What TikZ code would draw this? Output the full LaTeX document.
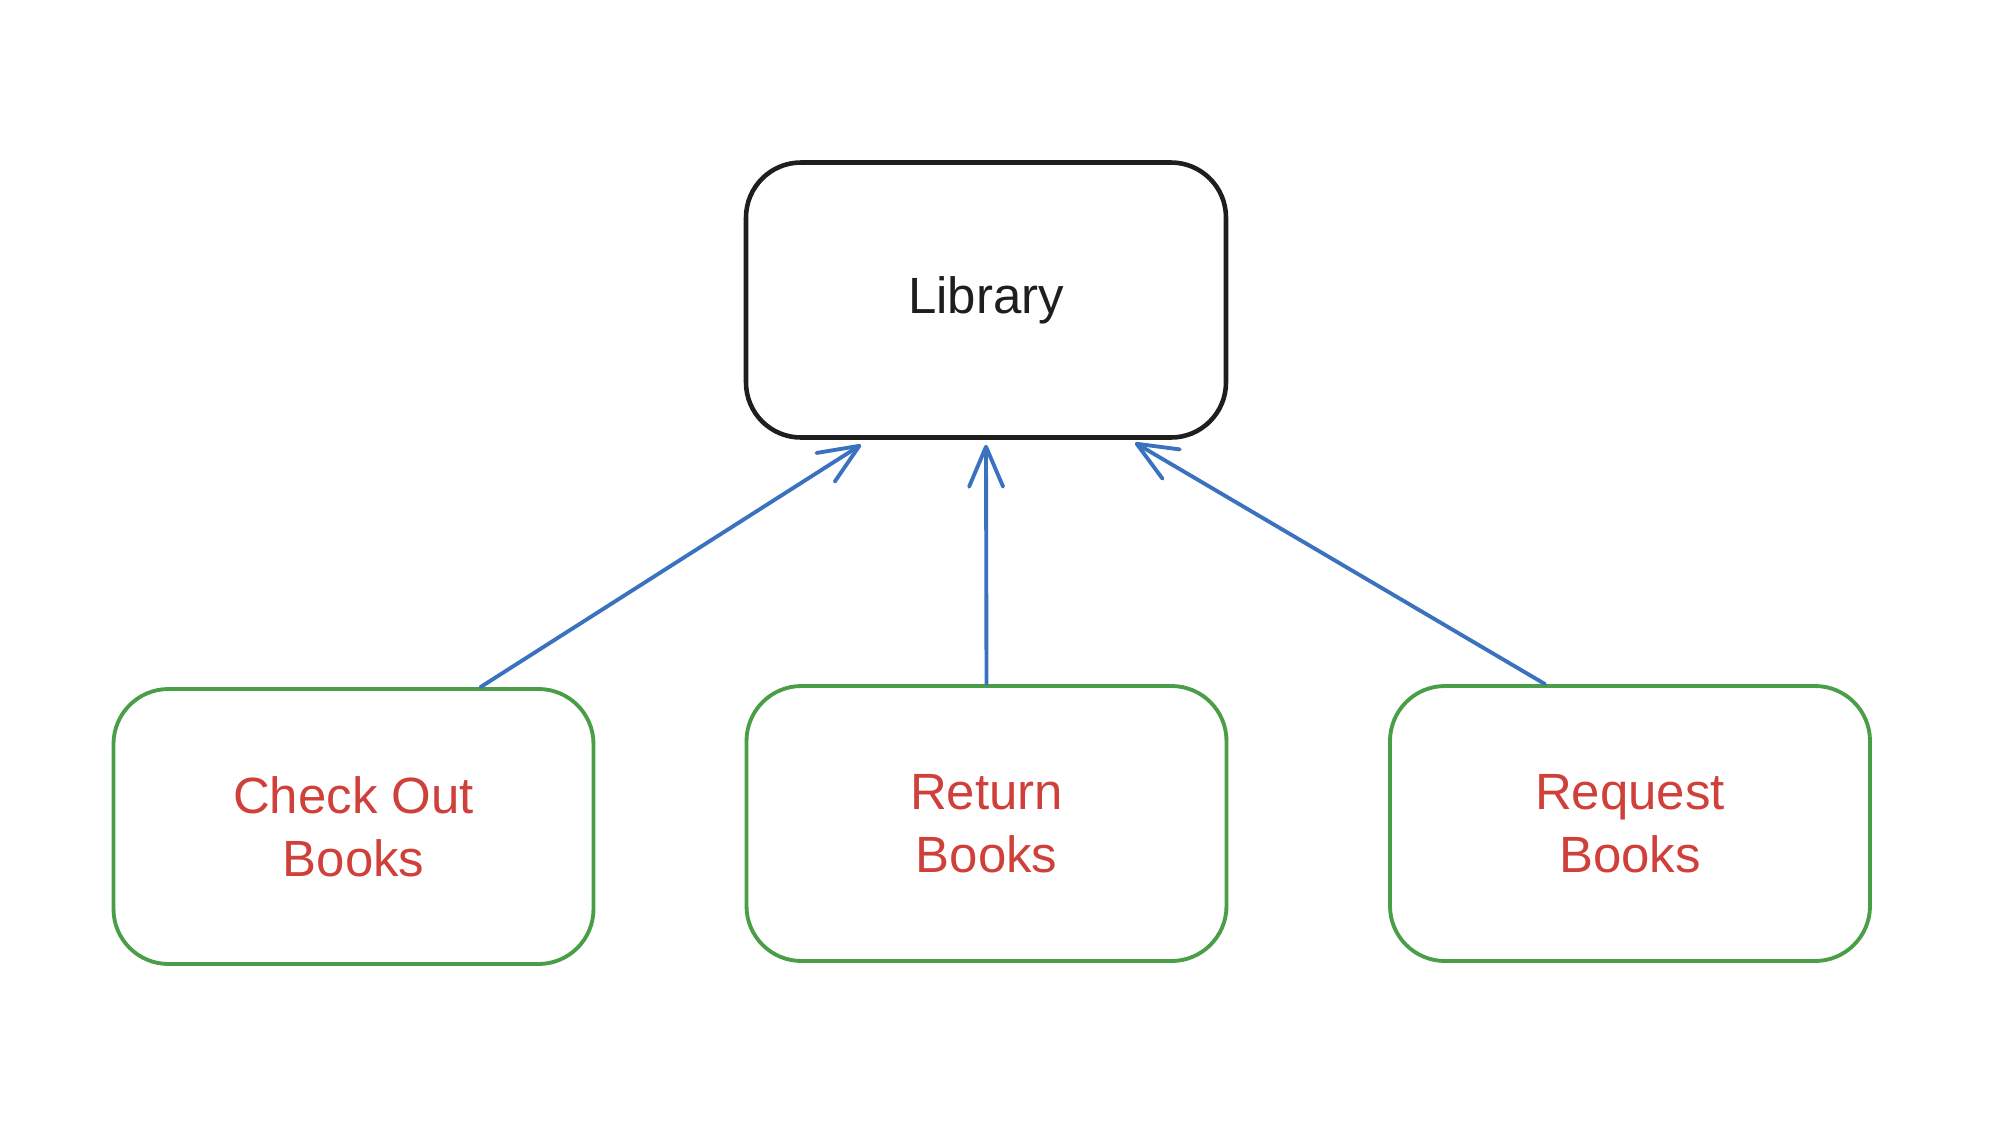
\documentclass[tikz,border=0pt]{standalone}
\usepackage{fontspec}
\setmainfont{Liberation Sans}
\usepackage{tikz}
\usetikzlibrary{arrows.meta,calc}
\definecolor{inkblack}{HTML}{1E1E1E}
\definecolor{inkgreen}{HTML}{4A9E47}
\definecolor{inkred}{HTML}{D0403A}
\definecolor{inkblue}{HTML}{3A72C0}

\begin{document}
\begin{tikzpicture}
    [box/.style={draw, rounded corners=0.55cm, minimum width=4.8cm, minimum height=2.75cm,
      align=center, font=\fontsize{14.5}{18}\selectfont},
     rootbox/.style={box, draw=inkblack, line width=1.3pt, text=inkblack},
     taskbox/.style={box, draw=inkgreen, line width=1.1pt, text=inkred},
     uplink/.style={draw=inkblue, line width=1.1pt, line cap=round,
      -{Straight Barb[length=0.4cm, width=0.34cm, line width=1.1pt, round]}}]
    \useasboundingbox (0,0) rectangle (19.99,-11.25);
    % top
    \node[rootbox] (lib) at (9.86,-3.0) {\raisebox{-0.6ex}{Library}};
    % bottom row
    \node[taskbox] (chk) at (3.535,-8.265) {Check Out\\Books};
    \node[taskbox] (ret) at (9.865,-8.235) {Return\\Books};
    \node[taskbox] (req) at (16.30,-8.235) {Request\\Books};
    % arrows
    \draw[uplink] ([xshift=1.27cm]chk.north) -- ([xshift=-1.25cm,yshift=-0.05cm]lib.south);
    \draw[uplink] (ret.north) -- ([yshift=-0.05cm]lib.south);
    \draw[uplink] ([xshift=-0.85cm]req.north) -- ([xshift=1.49cm,yshift=-0.03cm]lib.south);
  \end{tikzpicture}
\end{document}
